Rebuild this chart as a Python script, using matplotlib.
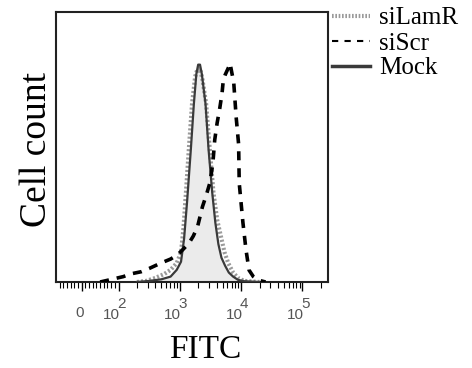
import numpy as np
import matplotlib
matplotlib.use('Agg')
from matplotlib import pyplot as plt
from matplotlib.lines import Line2D
import matplotlib.transforms as mtransforms

plt.rcParams['font.family'] = ['Liberation Serif', 'DejaVu Serif']

# FITC intensity / relative cell count
mock_fitc = [200, 316, 501, 708, 891, 1047, 1175, 1318, 1514, 1698, 1862, 1995,
             2138, 2291, 2630, 2951, 3388, 3802, 4266, 4786, 5495, 6310, 7413,
             8913, 11220, 19950]
mock_count = [0, 0.4, 1.0, 2.0, 4.5, 7.5, 16, 30, 49, 66, 77, 80.5,
              80.5, 77, 66, 49, 33, 22, 14, 9, 6, 3.5, 2,
              0.8, 0.3, 0]

silamr_fitc = [200, 282, 398, 562, 708, 891, 1047, 1148, 1259, 1413, 1585, 1778,
               1950, 2138, 2344, 2692, 3090, 3548, 4074, 4677, 5370, 6166, 7413,
               8913, 11220, 19950]
silamr_count = [0, 0.4, 1.5, 3, 4.5, 7, 11, 20, 33, 50, 66, 76,
                79, 79, 75, 66, 49, 33, 23, 17, 11, 7, 3.5,
                1.5, 0.4, 0]

siscr_fitc = [50, 66, 120, 158, 234, 316, 490, 708, 912, 1122, 1413, 1660,
              1950, 2344, 2692, 3090, 3467, 3715, 4074, 4467, 4898, 5129, 5495,
              6310, 6607, 7079, 7586, 8318, 9120, 9333, 10720, 12020, 13490,
              15850, 19050, 25120]
siscr_count = [0, 0.5, 2, 3, 3.8, 5, 7, 8.5, 10, 12, 14.4, 17,
               20.5, 27.9, 32, 36.6, 44, 52.6, 59, 64, 70, 74.8, 76.7,
               79.7, 81, 77.4, 74, 61, 51, 36.6, 22, 12, 4.4,
               2, 0.7, 0]

tick_vals = [0, 100, 1000, 10000, 100000]
tick_exps = ['', '2', '3', '4', '5']
legend_labels = ['siLamR', 'siScr', 'Mock']

fig = plt.figure(figsize=(4.72, 3.68), dpi=100)
ax = fig.add_axes([56/472, 1-282/368, 272/472, 270/368])

ax.fill_between(mock_fitc, mock_count, color='#ebebeb', lw=0, zorder=1)
ax.plot(silamr_fitc, silamr_count, color='#9a9a9a', lw=3,
        linestyle=(0, (0.5, 0.5)), zorder=2)
ax.plot(mock_fitc, mock_count, color='#3a3a3a', lw=1.6, zorder=3)
ax.plot(siscr_fitc, siscr_count, color='black', lw=2.6,
        linestyle=(0, (2.5, 2.2)), zorder=4)

ax.set_xscale('symlog', linthresh=100, linscale=0.54)
ax.set_xlim(-70, 262144)
ax.set_ylim(0, 100)

ax.set_xticks(tick_vals)
ax.set_xticklabels([''] * len(tick_vals))
minor = [v for v in range(-60, 0, 10)] + [v for v in range(10, 100, 10)]
for k in range(2, 5):
    minor += [m * 10**k for m in range(2, 10)]
minor += [2 * 10**5]
ax.set_xticks(minor, minor=True)
ax.tick_params(axis='x', which='major', direction='out', length=6.5, width=1)
ax.tick_params(axis='x', which='minor', direction='out', length=4, width=0.8)
ax.set_yticks([])
for sp in ax.spines.values():
    sp.set_linewidth(1.5)
    sp.set_color('#222222')

# tick labels: "10" with a nearly full-size exponent, like the original
trans = ax.get_xaxis_transform()
lab_kw = dict(fontsize=11, color='#555555', family='Liberation Sans')
for v, e in zip(tick_vals, tick_exps):
    if e == '':
        t = mtransforms.offset_copy(trans, fig, x=-2, y=0, units='dots')
        ax.text(v, -0.115, '0', transform=t, ha='center', va='center', **lab_kw)
    else:
        t = mtransforms.offset_copy(trans, fig, x=-7, y=0, units='dots')
        ax.text(v, -0.122, '10', transform=t, ha='center', va='center', **lab_kw)
        t = mtransforms.offset_copy(trans, fig, x=3, y=0, units='dots')
        ax.text(v, -0.08, e, transform=t, ha='center', va='center', **lab_kw)

fig.text(37/472, 1-150/368, 'Cell count', rotation=90, ha='center',
         va='center', fontsize=27)
fig.text(205/472, 1-350/368, 'FITC', ha='center', va='center', fontsize=24)

handles = [Line2D([], [], color='#9a9a9a', lw=3, linestyle=(0, (0.4, 0.4))),
           Line2D([], [], color='black', lw=1.5, linestyle=(0, (3, 3))),
           Line2D([], [], color='#3a3a3a', lw=2.5)]
fig.legend(handles, legend_labels, loc='upper left',
           bbox_to_anchor=(332/472, 1-7/368), frameon=False, fontsize=18,
           borderpad=0, borderaxespad=0, labelspacing=0.1,
           handlelength=1.5, handletextpad=0.4)

fig.savefig('out.png', dpi=100)
